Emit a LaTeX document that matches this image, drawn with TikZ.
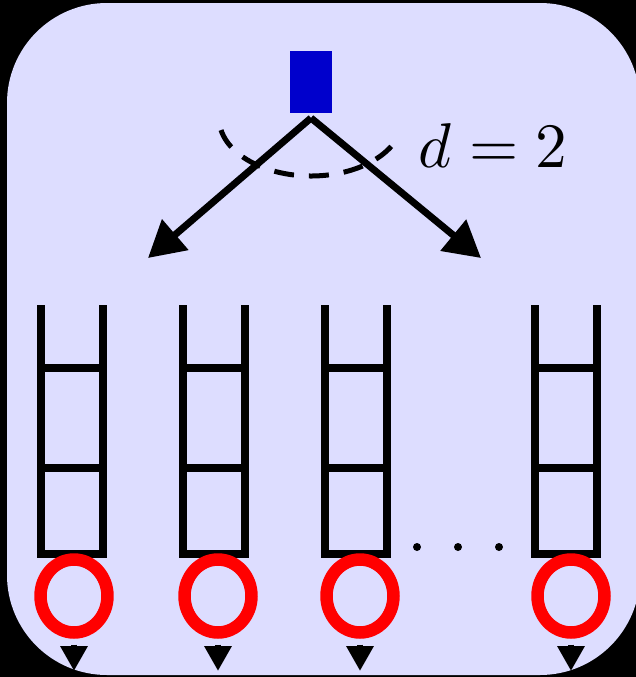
\documentclass[tikz,border=0pt]{standalone}
\usepackage{graphicx}
\usetikzlibrary{arrows.meta, shapes.geometric}
\definecolor{panel}{HTML}{DDDDFF}
\definecolor{srcblue}{HTML}{0000CC}
\tikzset{
  src/.style    = {fill=srcblue, minimum width=0.86cm, minimum height=1.26cm, inner sep=0pt},
  fork/.style   = {-{Triangle[length=0.72cm, width=0.78cm]}, line width=0.14cm},
  spread/.style = {dash pattern=on 0.4cm off 0.3cm, line width=0.1cm},
  rail/.style   = {line width=0.17cm},
  srv/.style    = {draw=red, ellipse, line width=0.25cm, minimum width=1.34cm,
                   minimum height=1.46cm, inner sep=0pt},
  drain/.style  = {-{Triangle[length=0.5cm, width=0.52cm]}, line width=0.13cm,
                   shorten <=0.12cm},
}

\begin{document}
\begin{tikzpicture}[x=0.02cm, y=-0.02cm]

  % ===== frame ==========================================================
  \useasboundingbox (0,0) rectangle (636,677);
  \fill[black] (0,0) rectangle (636,677);
  \fill[panel, rounded corners=2cm] (7,3) rectangle (640,675);

  % ===== source and its two choices =====================================
  \node[src] (top) at (311,82) {};
  \coordinate (apex) at (311,118);
  \coordinate (tl)   at (148,258);
  \coordinate (tr)   at (481,258);

  \draw[fork] (apex) -- (tl);
  \draw[fork] (apex) -- (tr);

  \draw[spread] (apex) ++(168:92 and 58)
        arc[start angle=168, end angle=28, x radius=92, y radius=58];
  \node[anchor=base] (deg) at (493,167) {\scalebox{3.6}{$d = 2$}};

  % ===== queues =========================================================
  \foreach \x in {72,214,356,566} {
    \draw[rail] (\x-31,305) -- (\x-31,554) -- (\x+31,554) -- (\x+31,305);
    \draw[rail] (\x-31,368) -- (\x+31,368);
    \draw[rail] (\x-31,468) -- (\x+31,468);
  }
  \foreach \x in {417,458,499}
    \fill (\x,547) circle[radius=4];

  % ===== servers ========================================================
  \foreach \i/\x in {1/74, 2/218, 3/360, 4/571} {
    \node[srv] (s\i) at (\x,596) {};
    \coordinate (d\i) at (\x,671);
    \draw[drain] (s\i.south) -- (d\i);
  }

\end{tikzpicture}
\end{document}
